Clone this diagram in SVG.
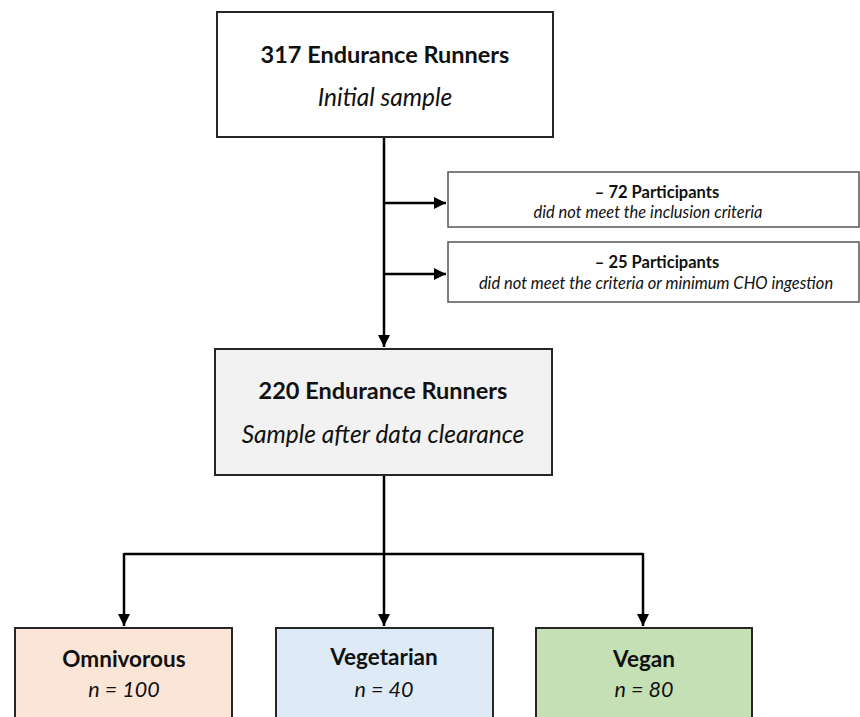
<svg xmlns="http://www.w3.org/2000/svg" width="860" height="717" viewBox="0 0 860 717">
<defs>
<style>
.box{stroke:#262626;stroke-width:2}
.b{font-family:Lato,"Open Sans","Liberation Sans",sans-serif;font-weight:bold;fill:#111;text-anchor:middle}
.i{font-family:Lato,"Open Sans","Liberation Sans",sans-serif;font-style:italic;fill:#111;text-anchor:middle}
.c{stroke:#000;stroke-width:2.5;fill:none}
</style>
<marker id="ah" viewBox="0 0 10 10" refX="10" refY="5" markerWidth="5" markerHeight="5" markerUnits="strokeWidth" orient="auto">
<path d="M0,0 L10,5 L0,10 z" fill="#000"/>
</marker>
</defs>
<rect width="860" height="717" fill="#fff"/>
<g id="connectors">
<path class="c" d="M384,137 V347" marker-end="url(#ah)"/>
<path class="c" d="M384,203 H446" marker-end="url(#ah)"/>
<path class="c" d="M384,274 H446" marker-end="url(#ah)"/>
<path class="c" d="M384,475 V626" marker-end="url(#ah)"/>
<path class="c" d="M124,554 H643"/>
<path class="c" d="M124,553 V626" marker-end="url(#ah)"/>
<path class="c" d="M643,553 V626" marker-end="url(#ah)"/>
</g>
<g id="initial">
<rect class="box" x="217" y="12" width="336" height="125" fill="#fff"/>
<text class="b" x="385" y="63" font-size="23.5">317 Endurance Runners</text>
<text class="i" x="385" y="106" font-size="24.5">Initial sample</text>
</g>
<g id="excl1">
<rect x="448" y="172" width="411" height="55" fill="#fff" stroke="#555" stroke-width="1.5"/>
<text class="b" x="657" y="198" font-size="16.5">– 72 Participants</text>
<text class="i" x="648" y="218" font-size="16.5">did not meet the inclusion criteria</text>
</g>
<g id="excl2">
<rect x="448" y="242" width="411" height="60" fill="#fff" stroke="#555" stroke-width="1.5"/>
<text class="b" x="657" y="268" font-size="16.5">– 25 Participants</text>
<text class="i" x="656" y="289" font-size="16.5">did not meet the criteria or minimum CHO ingestion</text>
</g>
<g id="cleared">
<rect class="box" x="215" y="349" width="337" height="126" fill="#f2f2f2"/>
<text class="b" x="383" y="399" font-size="23.5">220 Endurance Runners</text>
<text class="i" x="383" y="443" font-size="24.5">Sample after data clearance</text>
</g>
<g id="omnivorous">
<rect class="box" x="15" y="628" width="217" height="95" fill="#fbe5d6"/>
<text class="b" x="124" y="667" font-size="22.5">Omnivorous</text>
<text class="i" x="124" y="697" font-size="21.5">n = 100</text>
</g>
<g id="vegetarian">
<rect class="box" x="276" y="628" width="217" height="95" fill="#deebf7"/>
<text class="b" x="384" y="665" font-size="22.5">Vegetarian</text>
<text class="i" x="384" y="697" font-size="21.5">n = 40</text>
</g>
<g id="vegan">
<rect class="box" x="536" y="628" width="216" height="95" fill="#c5e0b4"/>
<text class="b" x="644" y="667" font-size="22.5">Vegan</text>
<text class="i" x="644" y="697" font-size="21.5">n = 80</text>
</g>
</svg>
